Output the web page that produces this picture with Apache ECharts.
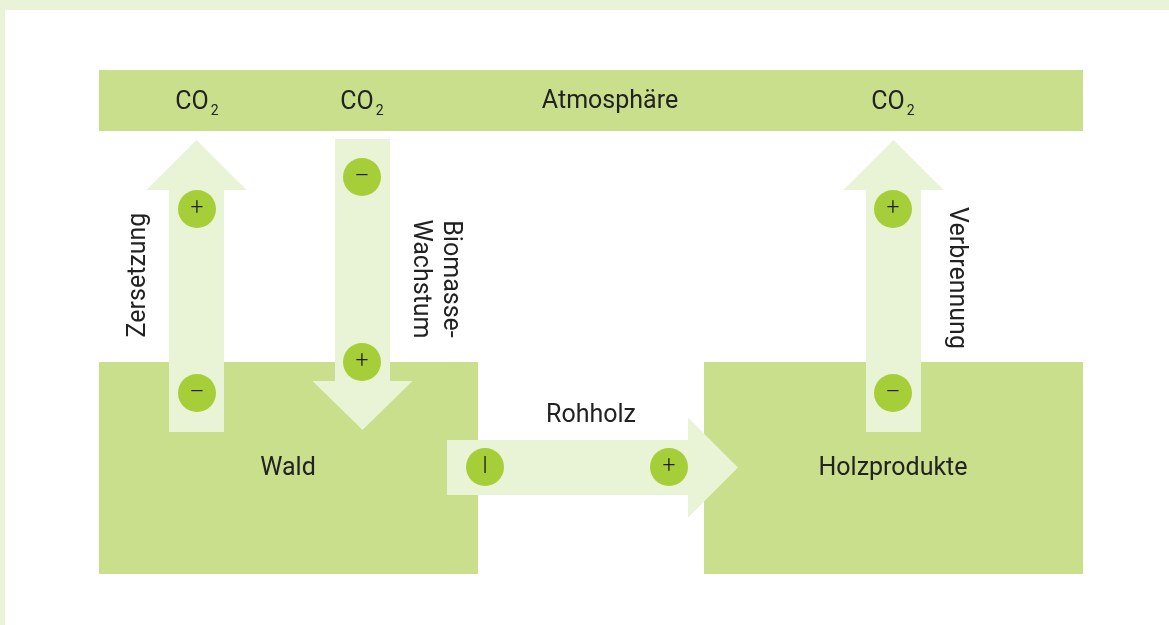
<!DOCTYPE html>
<html>
<head>
<meta charset="utf-8">
<script src="https://cdn.jsdelivr.net/npm/echarts@6/dist/echarts.min.js"></script>
<style>
  html, body { margin: 0; padding: 0; background: #fff; }
  #chart { width: 1169px; height: 625px; }
</style>
</head>
<body>
<div id="chart"></div>
<script>
// Koordinaten in Pixel-Einheiten des Diagramms (x: 0..1169, y: 0..625 von oben)
var boxes = [
  // [x0, y0, x1, y1]
  [99, 70, 1083, 131],    // Atmosphäre
  [99, 362, 478, 574],    // Wald
  [704, 362, 1083, 574]   // Holzprodukte
];
// Pfeile: [richtung, start, ende(spitze), mitte, schaftbreite, kopfbreite, kopflaenge]
var arrows = [
  ['up', 432, 140, 196.5, 55, 100, 50],     // Zersetzung
  ['down', 139, 430, 362.5, 55, 100, 49],   // Biomasse-Wachstum
  ['right', 447, 738, 467.5, 55, 100, 50],  // Rohholz
  ['up', 432, 140, 893.5, 55, 100, 50]      // Verbrennung
];
var signs = [
  [197, 209, '+'], [197, 393, '–'],
  [362, 177, '–'], [362, 362, '+'],
  [485, 467, 'I'], [669, 467, '+'],
  [893, 209, '+'], [893, 393, '–']
];
// [x, y, text, rotation]
var labels = [
  [197, 103, 'CO{s|2}', 0],
  [362, 103, 'CO{s|2}', 0],
  [610, 102, 'Atmosphäre', 0],
  [893, 103, 'CO{s|2}', 0],
  [288, 469, 'Wald', 0],
  [893, 469, 'Holzprodukte', 0],
  [591, 416, 'Rohholz', 0],
  [139, 275, 'Zersetzung', 90],
  [435, 279, 'Biomasse-\nWachstum', -90],
  [956, 278, 'Verbrennung', -90]
];

var chart = echarts.init(document.getElementById('chart'));

function arrowPoints(a, api) {
  var dir = a[0], s = a[1], e = a[2], m = a[3];
  var hw = a[4] / 2, hh = a[5] / 2, hl = a[6];
  var pts;
  if (dir === 'up' || dir === 'down') {
    var sg = dir === 'up' ? -1 : 1;
    var b = e - sg * hl;
    pts = [[m - hw, s], [m - hw, b], [m - hh, b], [m, e], [m + hh, b], [m + hw, b], [m + hw, s]];
  } else {
    var b2 = e - hl;
    pts = [[s, m - hw], [b2, m - hw], [b2, m - hh], [e, m], [b2, m + hh], [b2, m + hw], [s, m + hw]];
  }
  return pts.map(function (p) { return api.coord(p); });
}

var option = {
  animation: false,
  backgroundColor: '#fff',
  grid: { left: 0, right: 0, top: 0, bottom: 0 },
  xAxis: { type: 'value', min: 0, max: 1169, show: false },
  yAxis: { type: 'value', min: 0, max: 625, inverse: true, show: false },
  graphic: [
    { type: 'rect', shape: { x: 0, y: 0, width: 1169, height: 10 }, style: { fill: '#eaf3d7' } },
    { type: 'rect', shape: { x: 0, y: 0, width: 5, height: 625 }, style: { fill: '#eaf3d7' } }
  ],
  series: [
    {
      type: 'custom',
      data: boxes,
      renderItem: function (params, api) {
        var p0 = api.coord([api.value(0), api.value(1)]);
        var p1 = api.coord([api.value(2), api.value(3)]);
        return {
          type: 'rect',
          shape: { x: p0[0], y: p0[1], width: p1[0] - p0[0], height: p1[1] - p0[1] },
          style: { fill: '#c9df8b' }
        };
      },
      z: 1
    },
    {
      type: 'custom',
      data: arrows.map(function (a, i) { return [i]; }),
      renderItem: function (params, api) {
        var a = arrows[params.dataIndex];
        return {
          type: 'polygon',
          shape: { points: arrowPoints(a, api) },
          style: { fill: '#e9f3d5' }
        };
      },
      z: 2
    },
    {
      type: 'scatter',
      data: signs.map(function (s) { return [s[0], s[1], s[2]]; }),
      symbol: 'circle',
      symbolSize: 38,
      itemStyle: { color: '#a6ce39', opacity: 1 },
      label: {
        show: true,
        position: 'inside',
        formatter: function (p) { return p.data[2]; },
        color: '#1e1e1e',
        fontFamily: 'Roboto',
        fontWeight: 300,
        fontSize: 23
      },
      emphasis: { disabled: true },
      z: 3
    },
    {
      type: 'custom',
      data: labels.map(function (l, i) { return [i]; }),
      renderItem: function (params, api) {
        var l = labels[params.dataIndex];
        var p = api.coord([l[0], l[1]]);
        return {
          type: 'text',
          x: p[0], y: p[1],
          rotation: l[3] * Math.PI / 180,
          style: {
            text: l[2],
            fill: '#222',
            fontFamily: 'Roboto',
            fontSize: 25,
            lineHeight: 30,
            align: 'center',
            verticalAlign: 'middle',
            rich: {
              s: { fontSize: 14, fontFamily: 'Roboto', fill: '#222', padding: [16, 0, 0, 2] }
            }
          }
        };
      },
      z: 4
    }
  ]
};
chart.setOption(option);
</script>
</body>
</html>
